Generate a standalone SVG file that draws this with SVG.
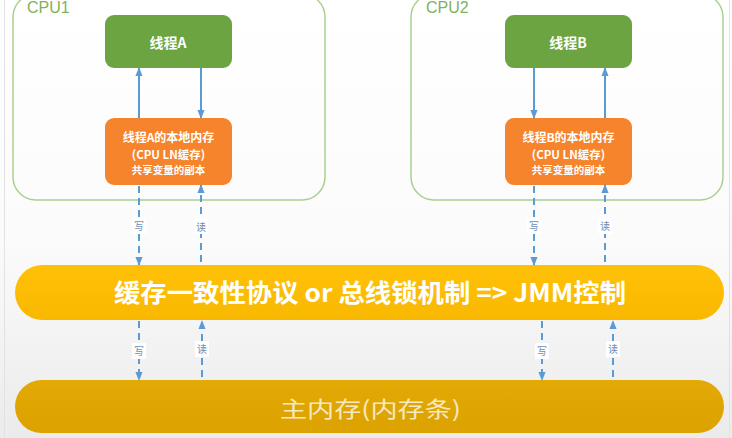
<svg xmlns="http://www.w3.org/2000/svg" width="732" height="438" viewBox="0 0 732 438">
<defs>
<linearGradient id="bg" x1="0" y1="0" x2="0" y2="1">
<stop offset="0" stop-color="#ffffff"/>
<stop offset="0.55" stop-color="#fbfbfb"/>
<stop offset="1" stop-color="#ebebeb"/>
</linearGradient>
<linearGradient id="busg" x1="0" y1="0" x2="0" y2="1">
<stop offset="0" stop-color="#ffc107"/>
<stop offset="1" stop-color="#f9b800"/>
</linearGradient>
<linearGradient id="memg" x1="0" y1="0" x2="0" y2="1">
<stop offset="0" stop-color="#e3aa06"/>
<stop offset="1" stop-color="#dba200"/>
</linearGradient>
<marker id="ahs" viewBox="0 0 10 10" refX="9" refY="5" markerWidth="9" markerHeight="9" orient="auto" markerUnits="userSpaceOnUse">
<path d="M0,1 L10,5 L0,9 z" fill="#5b9bd5"/>
</marker>
</defs>
<style>
.cpu{fill:none;stroke:#a9d18e;stroke-width:1.5}
.cpul{font-family:"Liberation Sans","Noto Sans CJK SC",sans-serif;font-size:16px;fill:#7fb25a}
.thr{fill:#6ba441}
.loc{fill:#f5842c}
.t1{font-family:"Noto Sans CJK SC","Liberation Sans",sans-serif;font-weight:bold;fill:#ffffff;text-anchor:middle}
.sol{stroke:#5b9bd5;stroke-width:2;fill:none;marker-end:url(#ahs)}
.dsh{stroke:#5b9bd5;stroke-width:2;fill:none;stroke-dasharray:7,5;marker-end:url(#ahs)}
.lbl{font-family:"Noto Sans CJK SC",sans-serif;font-size:10px;fill:#6f8fb8;text-anchor:middle}
.lbg{fill:#ffffff}
</style>
<rect x="0" y="0" width="732" height="438" fill="url(#bg)"/>
<line x1="4.5" y1="0" x2="4.5" y2="438" stroke="#e2e2e2" stroke-width="1"/>
<line x1="729.5" y1="0" x2="729.5" y2="438" stroke="#e2e2e2" stroke-width="1"/>

<g id="cpu1">
<rect class="cpu" x="13" y="-6" width="312" height="206" rx="23"/>
<text class="cpul" x="27" y="13">CPU1</text>
</g>
<g id="cpu2">
<rect class="cpu" x="411" y="-6" width="312" height="206" rx="23"/>
<text class="cpul" x="426" y="13">CPU2</text>
</g>

<g id="threadA">
<rect class="thr" x="105" y="15" width="127" height="53" rx="9"/>
<text class="t1" x="168" y="48" font-size="14">线程A</text>
</g>
<g id="threadB">
<rect class="thr" x="505" y="15" width="127" height="53" rx="9"/>
<text class="t1" x="568" y="48" font-size="14">线程B</text>
</g>

<g id="localA">
<rect class="loc" x="105" y="118" width="127" height="67" rx="9"/>
<text class="t1" x="168.5" y="142" font-size="12">线程A的本地内存</text>
<text class="t1" x="168.5" y="158.5" font-size="11.5">(CPU LN缓存)</text>
<text class="t1" x="168.5" y="174" font-size="10.5">共享变量的副本</text>
</g>
<g id="localB">
<rect class="loc" x="505" y="118" width="127" height="67" rx="9"/>
<text class="t1" x="568.5" y="142" font-size="12">线程B的本地内存</text>
<text class="t1" x="568.5" y="158.5" font-size="11.5">(CPU LN缓存)</text>
<text class="t1" x="568.5" y="174" font-size="10.5">共享变量的副本</text>
</g>

<g id="bus">
<rect x="15" y="265" width="709" height="55" rx="27.5" fill="url(#busg)"/>
<text x="370" y="302" font-family="'Noto Sans CJK SC','Liberation Sans',sans-serif" font-size="25" font-weight="bold" fill="#ffffff" text-anchor="middle" textLength="512" lengthAdjust="spacingAndGlyphs">缓存一致性协议 or 总线锁机制 =&gt; JMM控制</text>
</g>

<g id="mainmem">
<rect x="15" y="380" width="709" height="53" rx="26.5" fill="url(#memg)"/>
<text x="370.5" y="417" font-family="'Noto Sans CJK SC','Liberation Sans',sans-serif" font-size="22" fill="#f7e8bd" text-anchor="middle" textLength="181" lengthAdjust="spacingAndGlyphs">主内存(内存条)</text>
</g>

<g id="connectors">
<line class="sol" x1="139" y1="118" x2="139" y2="68"/>
<line class="sol" x1="201" y1="68" x2="201" y2="118"/>
<line class="sol" x1="534" y1="68" x2="534" y2="118"/>
<line class="sol" x1="605" y1="118" x2="605" y2="68"/>

<line class="dsh" x1="139" y1="186" x2="139" y2="265"/>
<line class="dsh" x1="201" y1="262" x2="201" y2="185"/>
<line class="dsh" x1="534" y1="186" x2="534" y2="265"/>
<line class="dsh" x1="605" y1="262" x2="605" y2="185"/>

<line class="dsh" x1="139" y1="321" x2="139" y2="380"/>
<line class="dsh" x1="202" y1="377" x2="202" y2="321"/>
<line class="dsh" x1="542" y1="321" x2="542" y2="380"/>
<line class="dsh" x1="613" y1="377" x2="613" y2="321"/>

<rect class="lbg" x="132" y="218" width="14" height="16"/>
<text class="lbl" x="139" y="230">写</text>
<rect class="lbg" x="194" y="218" width="14" height="16"/>
<text class="lbl" x="201" y="231">读</text>
<rect class="lbg" x="527" y="218" width="14" height="16"/>
<text class="lbl" x="534" y="230">写</text>
<rect class="lbg" x="598" y="218" width="14" height="16"/>
<text class="lbl" x="605" y="230">读</text>

<rect class="lbg" x="132" y="343" width="14" height="16"/>
<text class="lbl" x="139" y="355">写</text>
<rect class="lbg" x="195" y="341" width="14" height="16"/>
<text class="lbl" x="202" y="353">读</text>
<rect class="lbg" x="535" y="343" width="14" height="16"/>
<text class="lbl" x="542" y="355">写</text>
<rect class="lbg" x="606" y="341" width="14" height="16"/>
<text class="lbl" x="613" y="353">读</text>
</g>
</svg>
